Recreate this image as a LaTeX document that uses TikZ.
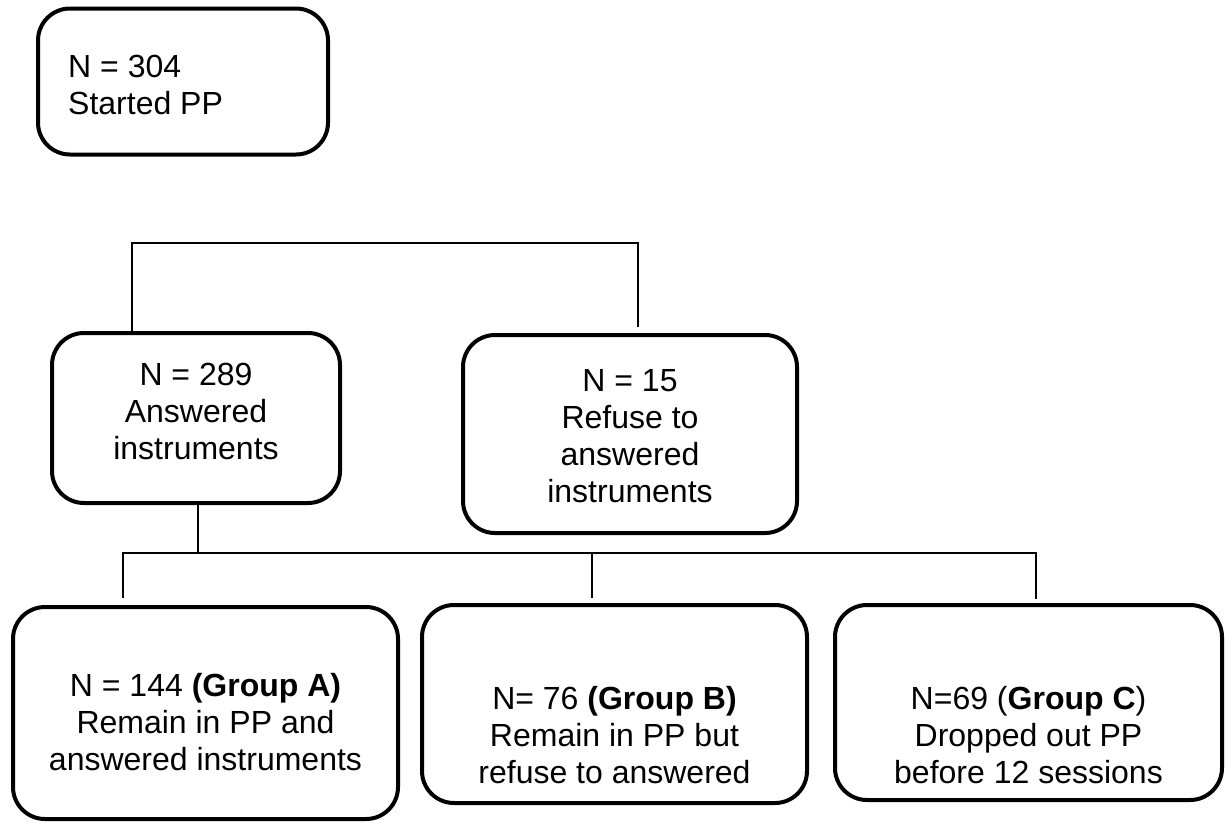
\documentclass[tikz,border=0pt]{standalone}
\usepackage{fontspec}
\setmainfont{Liberation Sans}
\begin{document}
\begin{tikzpicture}[x=1pt,y=-1pt,
  box/.style={draw, line width=4pt, rounded corners=32pt, inner sep=0pt},
  lbl/.style={font=\fontsize{32}{37}\selectfont, align=center, inner sep=0pt},
  link/.style={line width=1.6pt}]
\useasboundingbox (0,0) rectangle (1226,823);
% boxes
\node[box, minimum width=290pt, minimum height=146pt] (top) at (183,81.5) {};
\node[box, minimum width=288pt, minimum height=170pt] (a289) at (196,418) {};
\node[box, minimum width=334pt, minimum height=198pt] (a15) at (630,434) {};
\node[box, minimum width=385pt, minimum height=212pt] (bA) at (205.5,713) {};
\node[box, minimum width=385pt, minimum height=198pt] (bB) at (614.5,704) {};
\node[box, minimum width=387pt, minimum height=195pt] (bC) at (1028.5,702.5) {};
% texts
\node[lbl, align=left, anchor=west] (ttop) at (68,85) {N = 304\\Started PP};
\node[lbl] (t289) at (196,411) {N = 289\\Answered\\instruments};
\node[lbl] (t15) at (630,436) {N = 15\\Refuse to\\answered\\instruments};
\node[lbl] (tA) at (205.5,722) {N = 144 \textbf{(Group A)}\\Remain in PP and\\answered instruments};
\node[lbl] (tB) at (614.5,735) {N= 76 \textbf{(Group B)}\\Remain in PP but\\refuse to answered};
\node[lbl] (tC) at (1028.5,735) {N=69 (\textbf{Group C})\\Dropped out PP\\before 12 sessions};
% connectors
\coordinate (j1) at (132,243);
\coordinate (j2) at (638,243);
\draw[link, shorten >=6pt] (a289.north -| j1) -- (j1) -- (j2) -- (j2 |- a15.north);
\coordinate (k0) at (198,553);
\coordinate (k1) at (123,553);
\coordinate (k2) at (592,553);
\coordinate (k3) at (1036,553);
\draw[link] (a289.south -| k0) -- (k0);
\draw[link, shorten <=7pt, shorten >=4pt] (k1 |- bA.north) -- (k1) -- (k3) -- (k3 |- bC.north);
\draw[link, shorten >=5pt] (k2) -- (k2 |- bB.north);
\end{tikzpicture}
\end{document}
